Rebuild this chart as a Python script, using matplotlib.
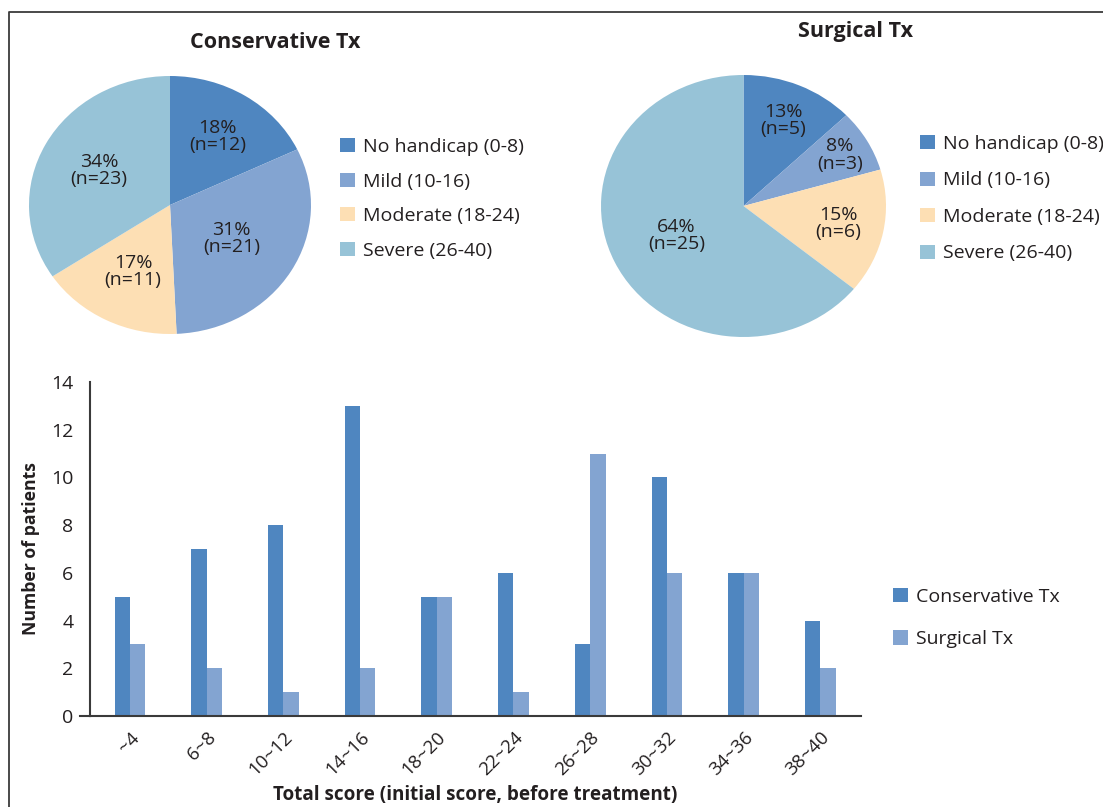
"""
Pie charts of handicap grade per treatment group, plus a bar chart of initial total scores.
"""

import numpy as np
import matplotlib
matplotlib.use('Agg')
import matplotlib.pyplot as plt
from matplotlib.lines import Line2D
from matplotlib.patches import Patch

plt.rcParams['font.family'] = ['Open Sans', 'DejaVu Sans']

# data
grades = ['No handicap (0-8)', 'Mild (10-16)', 'Moderate (18-24)', 'Severe (26-40)']
cons_counts = [12, 21, 11, 23]
surg_counts = [5, 3, 6, 25]
cons_pct = [18, 31, 17, 34]
surg_pct = [13, 8, 15, 64]

score_bins = ['~4', '6~8', '10~12', '14~16', '18~20', '22~24', '26~28', '30~32', '34~36', '38~40']
cons_bins = [5, 7, 8, 13, 5, 6, 3, 10, 6, 4]
surg_bins = [3, 2, 1, 2, 5, 1, 11, 6, 6, 2]

grade_colors = ['#4F86C0', '#83A4D1', '#FDDFB4', '#97C3D7']
c_cons = '#4F86C0'
c_surg = '#83A4D1'
txt = '#231F20'

W, H = 1103, 807
fig = plt.figure(figsize=(W / 100, H / 100), dpi=100)


def box(l, t, r, b):
    # pixel box -> figure fraction rect
    return [l / W, 1 - b / H, (r - l) / W, (b - t) / H]


def draw_pie(rect, counts, pcts, dists, title, title_xy, leg_xy, spacing):
    ax = fig.add_axes(rect)
    wedges, _ = ax.pie(counts, colors=grade_colors, startangle=90, counterclock=False,
                       wedgeprops=dict(linewidth=0))
    ax.set_aspect('auto')
    ax.set_xlim(-1, 1)
    ax.set_ylim(-1, 1)
    for w, p, n, d in zip(wedges, pcts, counts, dists):
        ang = np.deg2rad((w.theta1 + w.theta2) / 2)
        ax.text(d * np.cos(ang), d * np.sin(ang), '{}%\n(n={})'.format(p, n),
                ha='center', va='center', fontsize=14, color=txt, linespacing=0.95)
    fig.text(title_xy[0] / W, 1 - title_xy[1] / H, title, ha='center', va='center',
             fontsize=15.5, fontweight='bold', color=txt)
    handles = [Patch(facecolor=c, edgecolor='none') for c in grade_colors]
    fig.legend(handles, grades, loc='upper left',
               bbox_to_anchor=(leg_xy[0] / W, 1 - leg_xy[1] / H), frameon=False,
               fontsize=14, handlelength=0.75, handleheight=0.75, handletextpad=0.45,
               labelspacing=spacing, borderpad=0, borderaxespad=0, labelcolor=txt)


draw_pie(box(29, 76, 311, 334), cons_counts, cons_pct, [0.63, 0.51, 0.58, 0.57],
         'Conservative Tx', (275, 42), (340, 138), 0.85)
draw_pie(box(601, 75, 886, 337), surg_counts, surg_pct, [0.71, 0.78, 0.68, 0.52],
         'Surgical Tx', (855, 32), (920, 135), 0.95)

# bar chart
ax = fig.add_axes(box(90, 382, 861, 716))
x = np.arange(len(score_bins))
bw = 0.2
ax.bar(x - bw / 2, cons_bins, bw, color=c_cons, label='Conservative Tx')
ax.bar(x + bw / 2, surg_bins, bw, color=c_surg, label='Surgical Tx')
ax.set_xlim(-0.52, 9.53)
ax.set_ylim(0, 14)
ax.set_yticks(range(0, 15, 2))
ax.set_xticks(x)
ax.set_xticklabels(score_bins, rotation=45, ha='right', va='top', rotation_mode='anchor')
ax.tick_params(axis='both', length=0, labelsize=14, colors=txt)
ax.tick_params(axis='y', pad=12)
ax.tick_params(axis='x', labelsize=13.5, pad=9)
for s in ['top', 'right']:
    ax.spines[s].set_visible(False)
for s in ['left', 'bottom']:
    ax.spines[s].set_color('#3A3A3A')
    ax.spines[s].set_linewidth(1.5)
ax.axhline(0, xmin=-0.013, xmax=0, color='#3A3A3A', linewidth=1.5, clip_on=False)
ax.set_ylabel('Number of patients', fontsize=12.7, fontweight='bold', color=txt, labelpad=8)
ax.set_xlabel('Total score (initial score, before treatment)', fontsize=13.6,
              fontweight='bold', color=txt, labelpad=4)
fig.legend(loc='upper left', bbox_to_anchor=(893 / W, 1 - 588 / H), frameon=False,
           fontsize=14, handlelength=0.75, handleheight=0.75, handletextpad=0.45,
           labelspacing=1.25, borderpad=0, borderaxespad=0, labelcolor=txt)

# frame lines at top and left
fig.add_artist(Line2D([9 / W, 9 / W, 1], [0, 1 - 12 / H, 1 - 12 / H],
                      color='#3A3A3A', linewidth=1.3))

fig.savefig('out.png', dpi=100)
